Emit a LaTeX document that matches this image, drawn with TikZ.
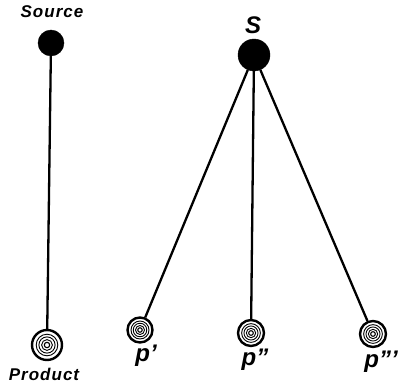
\documentclass[tikz,border=0pt]{standalone}
\usepackage{fontspec}
\setmainfont{Liberation Sans}
\newfontfamily\lblfont[LetterSpace=6]{Liberation Sans}
\usepackage{tikz}
\tikzstyle{src_n} = [circle, draw=black, fill=black, inner sep=0pt, minimum size=#1]
\tikzstyle{prd_r} = [circle, draw=black, line width=2.4pt, fill=white, inner sep=0pt, minimum size=2*#1,
  path picture={
    \foreach \f in {0.72,0.54,0.36} {
      \draw[line width=0.9pt] (path picture bounding box.center) circle[radius=\f*#1];
    }
    \draw[line width=1.1pt] (path picture bounding box.center) circle[radius=0.18*#1];
  }]
\tikzstyle{lbl} = [font=\lblfont\bfseries\itshape\fontsize{17}{17}\selectfont, inner sep=0pt]
\tikzstyle{lbl_b} = [font=\bfseries\itshape\fontsize{24}{24}\selectfont, inner sep=0pt]
\tikzstyle{stem} = [line width=2.3pt]

\begin{document}
\begin{tikzpicture}[x=1pt,y=-1pt]
\useasboundingbox (0,0) rectangle (398,385);
% one source, one product
\node [src_n=26pt] (src) at (51,43) {};
\node [prd_r=15pt] (prd) at (47,345) {};
\node [lbl] (src lbl) at (52,12) {Source};
\node [lbl] (prd lbl) at (44,374) {Product};
\draw [stem] (src) -- (prd);
% one source, three products
\node [src_n=32pt] (s) at (254,55) {};
\node [prd_r=12.5pt] (p1) at (140,330) {};
\node [prd_r=13pt] (p2) at (251,333) {};
\node [prd_r=13pt] (p3) at (373,334) {};
\node [lbl_b] (s lbl) at (253,25) {S};
\node [lbl_b] (p1 lbl) at (146,356) {p'};
\node [lbl_b] (p2 lbl) at (255,360) {p''};
\node [lbl_b] (p3 lbl) at (381,362) {p'''};
\foreach \p in {p1,p2,p3}
  \draw [stem] (s) -- (\p);
\end{tikzpicture}
\end{document}
